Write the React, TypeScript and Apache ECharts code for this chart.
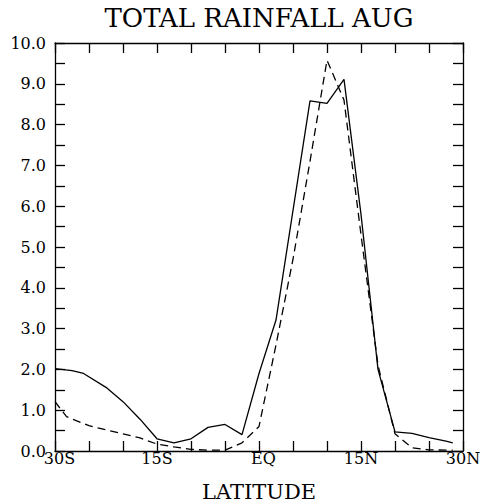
import { useEffect, useRef } from 'react';
import * as echarts from 'echarts';

const chartTitle = 'TOTAL RAINFALL AUG';
const xAxisTitle = 'LATITUDE';

const solidLat = [-30, -27.5, -25.8, -22.5, -20, -17.5, -15, -12.5, -10, -7.5, -5, -2.5, 0, 2.5, 5, 7.5, 10, 12.5, 15, 17.5, 20, 22.5, 25, 27.5, 28.5];
const solidVal = [2.02, 1.97, 1.9, 1.56, 1.21, 0.78, 0.3, 0.2, 0.3, 0.58, 0.65, 0.4, 1.9, 3.21, 5.9, 8.58, 8.52, 9.11, 5.8, 2.0, 0.47, 0.43, 0.33, 0.24, 0.2];

const dashedLat = [-30, -28.3, -25, -22.5, -20, -17.5, -15, -12.5, -10, -7.5, -5, -2.5, 0, 2.5, 5, 7.5, 10, 12.5, 15, 17.5, 20, 22.5, 25, 27.5, 28.5];
const dashedVal = [1.21, 0.84, 0.62, 0.52, 0.42, 0.32, 0.17, 0.1, 0.04, 0.02, 0.02, 0.2, 0.6, 2.6, 4.7, 7.1, 9.58, 8.6, 5.3, 2.1, 0.42, 0.08, 0.03, 0.02, 0.02];

const xLabelValues = [-30, -15, 0, 15, 30];
const xLabelTexts = ['30S', '15S', 'EQ', '15N', '30N'];
const xLabelStyleKeys = ['shift', 'plain', 'shift', 'plain', 'plain'];

const FONT = 'DejaVu Serif';

export default function App() {
  const ref = useRef<HTMLDivElement>(null);
  useEffect(() => {
    if (!ref.current) return;
    const chart = echarts.init(ref.current, undefined, { renderer: 'svg' });
    const axisLine = { show: true, onZero: false, lineStyle: { color: '#000', width: 1.3 } };
    const tickStyle = { show: true, inside: true, length: 10, lineStyle: { color: '#000', width: 1.3 } };
    chart.setOption({
      animation: false,
      backgroundColor: '#fff',
      grid: { left: 55, right: 20, top: 43, bottom: 53, outerBoundsMode: 'none' },
      graphic: [
        {
          type: 'text',
          x: 259,
          y: 18,
          style: { text: chartTitle, fontFamily: FONT, fontSize: 26, fill: '#000', textAlign: 'center', textVerticalAlign: 'middle' },
        },
        {
          type: 'text',
          x: 259,
          y: 492,
          style: { text: xAxisTitle, fontFamily: FONT, fontSize: 21, fill: '#000', textAlign: 'center', textVerticalAlign: 'middle' },
        },
      ],
      xAxis: [
        {
          type: 'value',
          min: -30,
          max: 30,
          interval: 5,
          position: 'bottom',
          axisLine,
          axisTick: tickStyle,
          splitLine: { show: false },
          axisLabel: {
            show: true,
            margin: 3,
            color: '#000',
            fontFamily: FONT,
            fontSize: 16,
            lineHeight: 8,
            showMinLabel: true,
            showMaxLabel: true,
            rich: {
              plain: { fontFamily: FONT, fontSize: 16, lineHeight: 8, color: '#000' },
              shift: { fontFamily: FONT, fontSize: 16, lineHeight: 8, color: '#000', padding: [0, 0, 0, 9] },
            },
            formatter: (v: number) => {
              const i = xLabelValues.indexOf(Math.round(v));
              return i >= 0 ? `{${xLabelStyleKeys[i]}|${xLabelTexts[i]}}` : '';
            },
          },
        },
        {
          type: 'value',
          min: -30,
          max: 30,
          interval: 5,
          position: 'top',
          axisLine,
          axisTick: tickStyle,
          splitLine: { show: false },
          axisLabel: { show: false },
        },
      ],
      yAxis: [
        {
          type: 'value',
          min: 0,
          max: 10,
          interval: 0.5,
          position: 'left',
          axisLine,
          axisTick: tickStyle,
          splitLine: { show: false },
          axisLabel: {
            show: true,
            margin: 9,
            color: '#000',
            fontFamily: FONT,
            fontSize: 16,
            lineHeight: 8,
            showMinLabel: true,
            showMaxLabel: true,
            formatter: (v: number) => (Math.abs(v - Math.round(v)) < 1e-6 ? v.toFixed(1) : ''),
          },
        },
        {
          type: 'value',
          min: 0,
          max: 10,
          interval: 0.5,
          position: 'right',
          axisLine,
          axisTick: tickStyle,
          splitLine: { show: false },
          axisLabel: { show: false },
        },
      ],
      series: [
        {
          type: 'line',
          xAxisIndex: 0,
          yAxisIndex: 0,
          data: solidLat.map((x, i) => [x, solidVal[i]]),
          showSymbol: false,
          symbol: 'none',
          lineStyle: { color: '#000', width: 1.3, type: 'solid' },
        },
        {
          type: 'line',
          xAxisIndex: 0,
          yAxisIndex: 0,
          data: dashedLat.map((x, i) => [x, dashedVal[i]]),
          showSymbol: false,
          symbol: 'none',
          lineStyle: { color: '#000', width: 1.3, type: [8, 5] },
        },
      ],
    });
    return () => chart.dispose();
  }, []);
  return <div ref={ref} style={{ position: 'fixed', left: 0, top: 0, width: 483, height: 504 }} />;
}
